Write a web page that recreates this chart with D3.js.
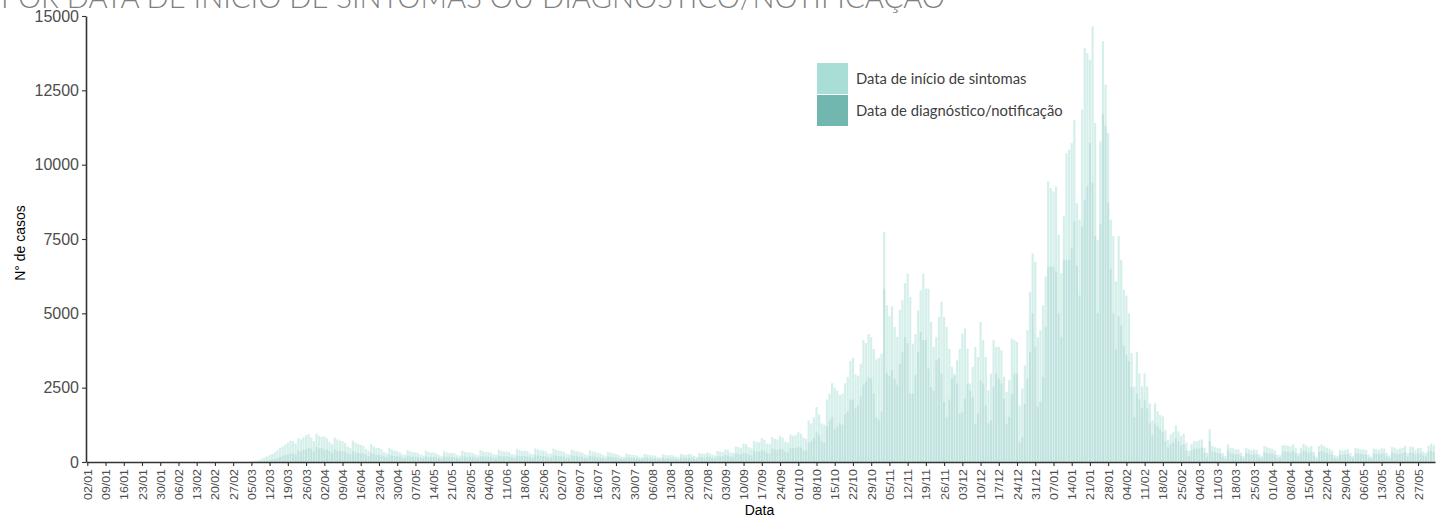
<!DOCTYPE html>
<html>
<head>
<meta charset="utf-8">
<script src="https://cdn.jsdelivr.net/npm/d3@7"></script>
<style>
  body { margin:0; background:#fff; }
  svg { display:block; }
  .tick text { fill:#4d4d4d; font-family:"Liberation Sans", Arial, sans-serif; }
  .domain, .tick line { stroke:#333; }
</style>
</head>
<body>
<svg id="chart" width="1442" height="518"></svg>
<script>
// ── data: daily cases from 27/02/2020, one row per week (Thu..Wed) ──
const START = "2020-02-27";
const END = "2021-06-02";
const AXIS_START = "2020-01-02";

const sintomas = [
  0,0,0,2,4,6,10,
  20,30,45,70,110,150,190,
  230,270,330,400,470,520,580,
  650,720,700,620,800,760,830,
  900,940,820,700,960,880,850,
  860,800,680,600,820,760,720,
  700,640,520,470,720,650,600,
  580,540,430,380,600,520,480,
  470,420,330,290,480,420,380,
  360,320,260,240,400,360,330,
  330,300,240,220,380,340,310,
  320,290,230,210,360,320,300,
  310,290,230,220,380,340,320,
  320,300,250,230,400,360,330,
  340,320,260,240,420,380,350,
  350,330,270,250,440,400,370,
  380,360,290,260,460,420,390,
  390,360,290,270,450,410,380,
  370,340,280,250,420,380,360,
  350,320,260,230,390,360,330,
  310,290,230,210,340,310,290,
  260,240,190,170,290,260,240,
  240,220,170,160,270,250,230,
  230,210,170,150,260,240,220,
  240,220,180,160,270,250,240,
  270,250,200,180,300,280,270,
  320,300,240,220,370,350,330,
  420,400,320,300,520,500,480,
  620,600,500,460,700,680,660,
  800,740,620,600,840,780,760,
  880,820,680,650,920,880,900,
  1000,950,820,780,1400,1300,1500,
  1850,1600,1300,1250,2100,2300,2650,
  2500,2400,2250,2300,2650,2860,3400,
  3500,2950,2900,3300,4100,4000,4300,
  4200,3800,3450,3500,3650,7740,5270,
  4900,5230,4540,4210,5120,5440,6010,
  6340,5550,3980,4300,5100,5780,6340,
  5830,5830,4710,3870,4200,4880,5390,
  4880,4540,3810,3200,2970,3420,3810,
  4320,4490,3810,2640,3200,3870,3530,
  4710,4100,3530,2410,2970,4100,3870,
  3870,3760,2860,2360,2750,4150,4100,
  4040,1900,2470,3250,4430,5720,7010,
  6730,4200,4430,5270,6240,9440,9210,
  9100,9270,7640,6350,8260,10390,10500,
  10730,11500,8700,8150,11850,13920,13760,
  13530,14650,11400,7470,10780,14150,12690,
  11060,8150,7590,6070,7600,6800,5790,
  5600,5000,3660,2540,3710,2980,2540,
  2980,2540,1970,1410,1970,1700,1580,
  1530,1080,740,930,1000,1230,1040,
  875,950,650,370,600,700,700,
  730,760,480,310,1100,540,500,
  480,460,300,200,595,480,460,
  420,430,310,200,480,430,390,
  420,400,260,200,540,500,470,
  440,380,250,230,560,570,540,
  520,595,480,300,480,617,560,
  500,540,340,180,540,590,540,
  480,440,380,230,200,400,380,
  400,430,300,200,480,450,420,
  420,400,260,180,450,430,400,
  460,450,300,220,500,480,420,
  450,480,540,300,520,500,400,
  480,470,350,300,550,617,560
];

const diagnostico = [
  0,0,0,0,2,2,4,
  5,8,12,18,25,35,45,
  60,80,100,130,170,210,240,
  250,300,280,260,380,350,420,
  420,480,440,350,500,460,480,
  400,420,380,300,420,380,360,
  360,340,280,250,360,320,300,
  300,290,240,200,300,270,250,
  240,220,180,160,240,210,200,
  200,180,150,130,200,180,170,
  180,170,140,120,190,170,160,
  170,160,130,120,180,170,160,
  170,160,140,120,190,180,170,
  180,170,150,130,200,190,180,
  180,170,150,130,210,190,180,
  190,180,150,140,220,200,190,
  200,190,160,140,230,210,200,
  200,190,160,150,230,210,200,
  190,180,150,140,220,200,190,
  180,170,140,130,200,190,180,
  160,150,130,120,180,170,160,
  140,130,110,100,160,150,140,
  130,120,100,90,150,140,130,
  130,120,100,90,140,130,120,
  130,120,100,90,150,140,130,
  150,140,110,100,170,160,150,
  180,170,140,120,200,190,180,
  230,220,180,160,280,270,260,
  300,290,240,220,360,350,340,
  400,380,300,280,450,420,400,
  450,430,350,320,480,460,470,
  500,480,400,380,650,700,800,
  1000,900,700,650,1200,1400,1500,
  1100,1200,1300,1250,1600,1700,2100,
  2100,1800,1900,2200,2600,2700,2850,
  2800,2300,1500,1400,1700,5830,3000,
  2900,3100,2800,2600,3300,3700,4200,
  4000,2300,2300,2920,3700,4375,4100,
  4100,3140,2520,2400,3420,3480,2970,
  2020,1510,2100,2800,2900,2640,1630,
  1680,2130,2640,2400,2190,1290,1630,
  2750,2640,1900,1290,1400,2520,2970,
  2800,2640,2130,1290,1520,2300,2970,
  2970,670,840,1960,2800,3700,4990,
  3870,1850,2020,2860,4540,6570,6570,
  6570,6400,5000,4200,6800,6800,6800,
  7200,8100,6600,5600,7900,8800,9270,
  10730,9400,7600,5000,8000,11700,11300,
  8700,6500,5000,3800,4900,4600,3900,
  3600,3400,2500,1500,2300,2100,1800,
  2100,1800,1300,900,1300,1200,1100,
  1000,700,480,600,650,800,700,
  550,600,400,200,400,450,450,
  450,480,300,180,700,350,320,
  300,280,180,110,380,300,280,
  260,260,190,120,300,270,240,
  260,250,160,120,330,300,290,
  280,240,150,140,350,360,340,
  330,370,300,190,300,390,350,
  310,340,210,110,340,370,340,
  300,280,240,140,120,250,240,
  250,270,190,120,300,280,260,
  260,250,160,110,280,270,250,
  290,280,190,140,310,300,260,
  280,300,330,190,320,310,250,
  300,290,220,190,340,380,350
];

const yTicks = [0, 2500, 5000, 7500, 10000, 12500, 15000];
const legendItems = ["Data de início de sintomas", "Data de diagnóstico/notificação"];
const COLORS = ["#a8ded6", "#72b6b0"];
const TITLE = "POR DATA DE INÍCIO DE SINTOMAS OU DIAGNÓSTICO/NOTIFICAÇÃO";

// ── layout ──
const svg = d3.select("#chart");
const M = { left: 86, right: 1435, top: 16, bottom: 462 };
const parse = d3.utcParse("%Y-%m-%d");
const DAY = 864e5;

const start = parse(START);
const axisStart = parse(AXIS_START);
const end = parse(END);
const days = d3.utcDay.range(start, d3.utcDay.offset(end, 1));

const x = d3.scaleUtc()
  .domain([new Date(+axisStart - DAY / 2), new Date(+end + DAY / 2)])
  .range([M.left, M.right]);
const y = d3.scaleLinear().domain([0, 15000]).range([M.bottom, M.top]);
const step = x(new Date(+start + DAY)) - x(start);
const bw = step * 0.84;

// title (cut by the top edge)
svg.append("text")
  .attr("x", 1).attr("y", 8)
  .attr("font-family", "Lato, 'Open Sans', sans-serif")
  .attr("font-weight", 300)
  .attr("font-size", 30)
  .attr("fill", "#7f7f7f")
  .attr("textLength", 944)
  .attr("lengthAdjust", "spacingAndGlyphs")
  .text(TITLE);

// bars
const series = [
  { vals: sintomas, color: COLORS[0], op: 0.48 },
  { vals: diagnostico, color: COLORS[1], op: 0.2 },
];
series.forEach(s => {
  svg.append("g").selectAll("rect")
    .data(days.map((d, i) => ({ d, v: s.vals[i] || 0 })))
    .join("rect")
    .attr("x", p => x(p.d) - bw / 2)
    .attr("width", bw)
    .attr("y", p => y(p.v))
    .attr("height", p => y(0) - y(p.v))
    .attr("fill", s.color)
    .attr("fill-opacity", s.op);
});

// axes
const fmt = d3.utcFormat("%d/%m");
const xTicks = d3.utcDay.range(axisStart, d3.utcDay.offset(end, 1), 7);

const gx = svg.append("g")
  .attr("transform", `translate(0,${M.bottom})`)
  .call(d3.axisBottom(x).tickValues(xTicks).tickFormat(fmt).tickSize(4).tickSizeOuter(0));
gx.select(".domain").attr("stroke-width", 1.6);
gx.selectAll(".tick line").attr("stroke-width", 1.1);
gx.selectAll(".tick text")
  .attr("font-size", 11.5)
  .attr("textLength", 31)
  .attr("lengthAdjust", "spacingAndGlyphs")
  .attr("transform", "rotate(-90)")
  .attr("text-anchor", "end")
  .attr("x", -7).attr("y", 0).attr("dy", "0.35em");

const gy = svg.append("g")
  .attr("transform", `translate(${M.left},0)`)
  .call(d3.axisLeft(y).tickValues(yTicks).tickFormat(d3.format("d")).tickSize(4).tickSizeOuter(0));
gy.select(".domain").attr("stroke-width", 1.6);
gy.selectAll(".tick line").attr("stroke-width", 1.1);
gy.selectAll(".tick text").attr("font-size", 16).attr("x", -7);

// axis titles
svg.append("text")
  .attr("x", (M.left + M.right) / 2 - 1).attr("y", 515)
  .attr("text-anchor", "middle")
  .attr("font-family", "'Liberation Sans', Arial, sans-serif")
  .attr("font-size", 14).attr("fill", "#000")
  .text("Data");
svg.append("text")
  .attr("transform", `translate(25,${(M.top + M.bottom) / 2 + 4}) rotate(-90)`)
  .attr("text-anchor", "middle")
  .attr("font-family", "'Liberation Sans', Arial, sans-serif")
  .attr("font-size", 14).attr("fill", "#000")
  .text("N° de casos");

// legend
const lg = svg.append("g").attr("transform", "translate(817,63)");
legendItems.forEach((t, i) => {
  lg.append("rect")
    .attr("x", 0).attr("y", i * 32)
    .attr("width", 31).attr("height", 31)
    .attr("fill", COLORS[i]);
  lg.append("text")
    .attr("x", 39).attr("y", i * 32 + 16).attr("dy", "0.35em")
    .attr("font-family", "Lato, 'Open Sans', sans-serif")
    .attr("font-size", 14.8).attr("fill", "#404040")
    .text(t);
});
</script>
</body>
</html>
